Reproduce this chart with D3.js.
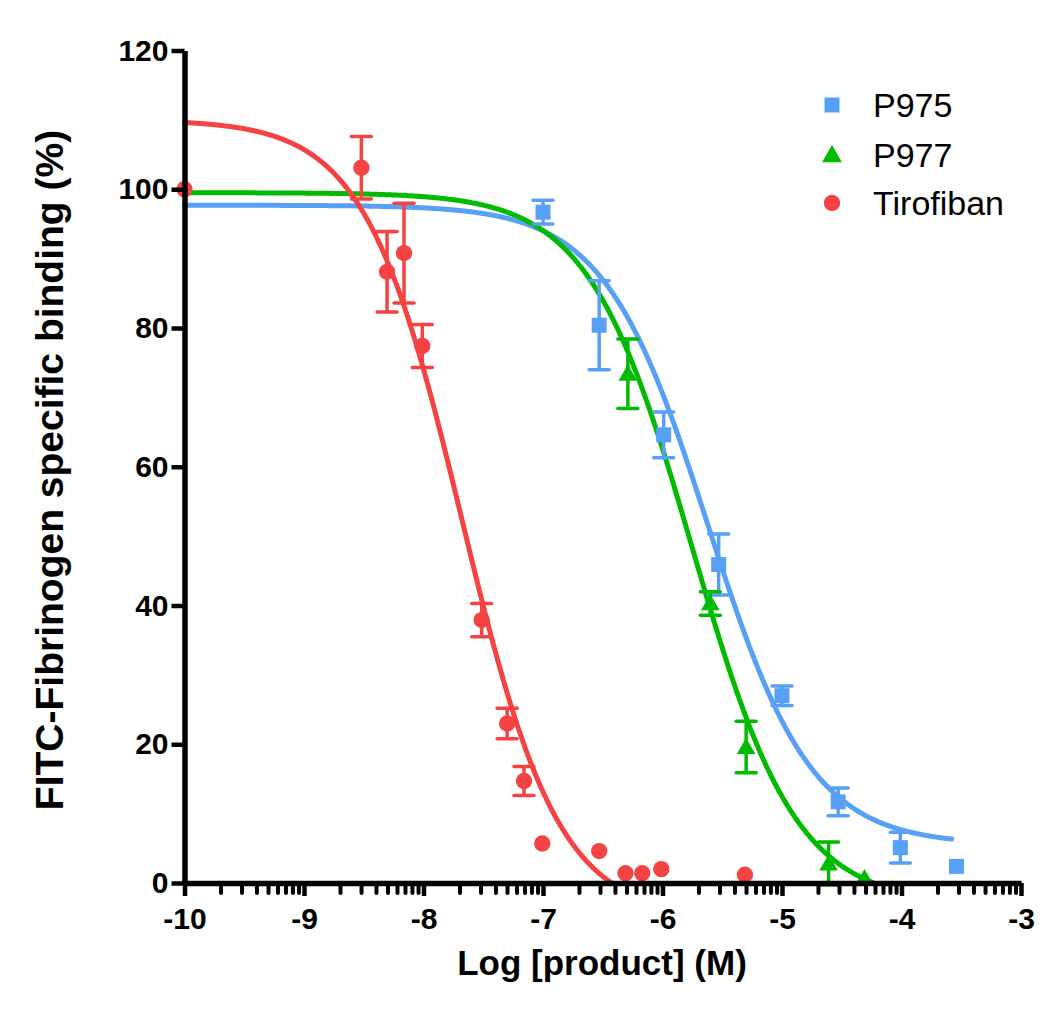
<!DOCTYPE html>
<html>
<head>
<meta charset="utf-8">
<script src="https://cdn.jsdelivr.net/npm/d3@7"></script>
<style>
  html, body { margin: 0; padding: 0; background: #ffffff; }
  svg { display: block; }
  text { font-family: "Liberation Sans", Arial, Helvetica, sans-serif; }
</style>
</head>
<body>
<svg id="chart" width="1050" height="1009"></svg>
<script>
// ---------- DATA ----------
const seriesNames = ["P975", "P977", "Tirofiban"];

// P975 (blue squares)
const p975X   = [-7.00, -6.53, -5.99, -5.53, -5.00, -4.53, -4.01, -3.54];
const p975Y   = [96.7, 80.4, 64.6, 45.9, 27.0, 11.7, 5.1, 2.4];
const p975Err = [1.7, 6.4, 3.3, 4.4, 1.4, 2.0, 2.2, 0];

// P977 (green triangles)
const p977X   = [-6.29, -5.60, -5.30, -4.61, -4.31];
const p977Y   = [73.4, 40.3, 19.6, 2.8, 0.7];
const p977Err = [5.0, 1.7, 3.7, 3.1, 0];

// Tirofiban (red circles)
const tiroX   = [-10.0, -8.52, -8.305, -8.163, -8.01, -7.513, -7.30, -7.159, -7.006, -6.53, -6.31, -6.17, -6.01, -5.31];
const tiroY   = [100.0, 103.1, 88.1, 90.8, 77.4, 37.9, 23.0, 14.7, 5.7, 4.6, 1.4, 1.4, 2.0, 1.2];
const tiroErr = [0, 4.5, 5.8, 7.2, 3.1, 2.4, 2.2, 2.1, 0, 0, 0, 0, 0, 0];

// Fitted sigmoidal dose-response curves
const fitTop     = [97.7, 99.5, 110.0];
const fitBottom  = [5.5, -3.0, -5.0];
const fitLogIC50 = [-5.62, -5.75, -7.68];
const fitHill    = [1.0, 1.0, 1.07];
const fitXEnd    = [-3.58, -3.0, -3.0];

// Axis ticks
const xTicks = [-10, -9, -8, -7, -6, -5, -4, -3];
const yTicks = [0, 20, 40, 60, 80, 100, 120];
const decades = [-10, -9, -8, -7, -6, -5, -4];
const minorMultipliers = [2, 3, 4, 5, 6, 7, 8, 9];

// ---------- STYLE ----------
const colors = ["#58A0F5", "#00BB00", "#F54242"];

const svg = d3.select("#chart");
const x = d3.scaleLinear().domain([-10, -3]).range([184.5, 1021]);
const y = d3.scaleLinear().domain([0, 120]).range([883, 50.5]);

// ---------- CURVES ----------
function fitValue(i, xv) {
  return fitBottom[i] + (fitTop[i] - fitBottom[i]) / (1 + Math.pow(10, (xv - fitLogIC50[i]) * fitHill[i]));
}
const line = d3.line().x(d => x(d[0])).y(d => y(d[1]));
for (let i = 0; i < 3; i++) {
  const pts = [];
  for (let xv = -10; xv <= fitXEnd[i] + 1e-9; xv += 0.005) {
    const v = fitValue(i, xv);
    if (v < 0) {
      const prev = pts[pts.length - 1];
      if (prev) {
        const t = prev[1] / (prev[1] - v);
        pts.push([prev[0] + t * (xv - prev[0]), 0]);
      }
      break;
    }
    pts.push([xv, v]);
  }
  svg.append("path")
    .datum(pts)
    .attr("d", line)
    .attr("fill", "none")
    .attr("stroke", colors[i])
    .attr("stroke-width", 5)
    .attr("stroke-linecap", "round");
}

// ---------- ERROR BARS + MARKERS ----------
const seriesData = [
  { xs: p975X, ys: p975Y, es: p975Err, shape: "square" },
  { xs: p977X, ys: p977Y, es: p977Err, shape: "triangle" },
  { xs: tiroX, ys: tiroY, es: tiroErr, shape: "circle" }
];

const capHalf = 10;
seriesData.forEach((s, i) => {
  const pts = s.xs.map((xv, j) => ({ x: xv, y: s.ys[j], e: s.es[j] }));
  const g = svg.append("g");
  const eb = g.selectAll("g.eb").data(pts.filter(d => d.e > 0)).enter().append("g");
  eb.append("line")
    .attr("x1", d => x(d.x)).attr("x2", d => x(d.x))
    .attr("y1", d => y(d.y - d.e)).attr("y2", d => y(d.y + d.e))
    .attr("stroke", colors[i]).attr("stroke-width", 3.5);
  [1, -1].forEach(sgn => {
    eb.append("line")
      .attr("x1", d => x(d.x) - capHalf).attr("x2", d => x(d.x) + capHalf)
      .attr("y1", d => y(d.y + sgn * d.e)).attr("y2", d => y(d.y + sgn * d.e))
      .attr("stroke", colors[i]).attr("stroke-width", 3.5).attr("stroke-linecap", "round");
  });
  const sym = s.shape === "square" ? d3.symbolSquare : s.shape === "triangle" ? d3.symbolTriangle : d3.symbolCircle;
  const size = s.shape === "square" ? 225 : s.shape === "triangle" ? 150 : 210;
  g.selectAll("path.m").data(pts).enter().append("path")
    .attr("d", d3.symbol().type(sym).size(size))
    .attr("transform", d => `translate(${x(d.x)},${y(d.y) + (s.shape === "triangle" ? 1.5 : 0)})`)
    .attr("fill", colors[i]);
});

// ---------- AXES ----------
const tickFont = 30;
// X axis
const xAxis = svg.append("g").attr("transform", `translate(0,${y(0)})`)
  .call(d3.axisBottom(x).tickValues(xTicks).tickSize(13).tickSizeOuter(0).tickPadding(12).tickFormat(d3.format("d")));
xAxis.select(".domain").attr("stroke", "#000").attr("stroke-width", 5.5);
xAxis.selectAll(".tick line").attr("stroke", "#000").attr("stroke-width", 4.5);
xAxis.selectAll(".tick text").attr("font-size", tickFont).attr("font-weight", "bold").attr("fill", "#000")
  .text(d => d < 0 ? "-" + Math.abs(d) : d);

const minorTicks = [];
decades.forEach(d => minorMultipliers.forEach(k => minorTicks.push(d + Math.log10(k))));
const xMinor = svg.append("g").attr("transform", `translate(0,${y(0)})`)
  .call(d3.axisBottom(x).tickValues(minorTicks).tickSize(10).tickSizeOuter(0).tickFormat(""));
xMinor.select(".domain").remove();
xMinor.selectAll(".tick line").attr("stroke", "#000").attr("stroke-width", 4).attr("stroke-linecap", "round");

// Y axis
const yAxis = svg.append("g").attr("transform", `translate(${x(-10)},0)`)
  .call(d3.axisLeft(y).tickValues(yTicks).tickSize(13).tickSizeOuter(0).tickPadding(3));
yAxis.select(".domain").attr("stroke", "#000").attr("stroke-width", 5.5);
yAxis.selectAll(".tick line").attr("stroke", "#000").attr("stroke-width", 4.5);
yAxis.selectAll(".tick text").attr("font-size", tickFont).attr("font-weight", "bold").attr("fill", "#000");

// Axis titles
svg.append("text")
  .attr("x", 602).attr("y", 975)
  .attr("text-anchor", "middle")
  .attr("font-size", 35).attr("font-weight", "bold").attr("fill", "#000")
  .text("Log [product] (M)");

svg.append("text")
  .attr("transform", "translate(63,470) rotate(-90)")
  .attr("text-anchor", "middle")
  .attr("font-size", 39).attr("font-weight", "bold").attr("fill", "#000")
  .text("FITC-Fibrinogen specific binding (%)");

// ---------- LEGEND ----------
const legendY = [105, 155, 203];
const legendShapes = [d3.symbolSquare, d3.symbolTriangle, d3.symbolCircle];
const legendSizes = [225, 170, 210];
const legend = svg.append("g");
seriesNames.forEach((name, i) => {
  legend.append("path")
    .attr("d", d3.symbol().type(legendShapes[i]).size(legendSizes[i]))
    .attr("transform", `translate(832,${legendY[i] + (i === 1 ? 1.5 : 0)})`)
    .attr("fill", colors[i]);
  legend.append("text")
    .attr("x", 873).attr("y", legendY[i] + 12)
    .attr("font-size", 34).attr("fill", "#000")
    .text(name);
});
</script>
</body>
</html>
